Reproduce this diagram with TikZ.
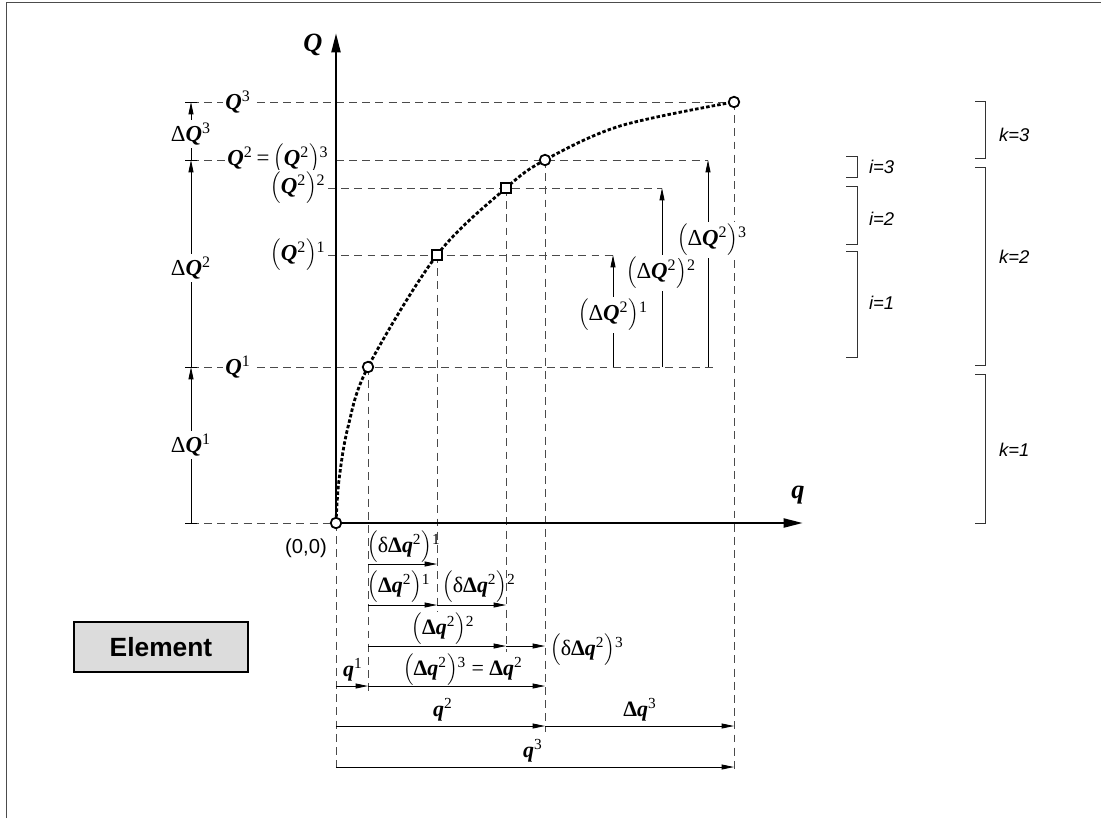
\documentclass[tikz,border=0pt]{standalone}
\usepackage{fontspec}
\setmainfont{Liberation Serif}
\setsansfont{Liberation Sans}
\usetikzlibrary{arrows.meta,positioning}
\definecolor{guidegray}{HTML}{4A4A4A}
\definecolor{elemgray}{HTML}{DCDCDC}
\newcommand{\Qb}{\textbf{\textit{Q}}}
\newcommand{\qb}{\textbf{\textit{q}}}
\newcommand{\bigp}[2]{$\Bigl($#1$\Bigr)$\textsuperscript{#2}}

\begin{document}
\begin{tikzpicture}[x=0.02cm, y=-0.02cm,
  every node/.style={font=\fontsize{13}{15}\selectfont, inner sep=1pt},
  guide/.style={guidegray, line width=0.5pt, dash pattern=on 4.5pt off 3pt},
  axis/.style={line width=1.5pt, -{Triangle[length=11pt,width=5pt]}},
  dim/.style={line width=0.5pt, -{Triangle[length=7pt,width=2.8pt]}},
  lab/.style={fill=white, inner sep=1.5pt},
  qlab/.style={inner sep=0pt, font=\fontsize{12.5}{14}\selectfont},
  curve/.style={line width=1.6pt, dash pattern=on 2pt off 1.2pt},
  ptc/.style={circle, draw, line width=1pt, fill=white, minimum size=6pt, inner sep=0pt},
  pts/.style={rectangle, draw, line width=1pt, fill=white, minimum size=6pt, inner sep=0pt},
  brk/.style={line width=0.5pt, black!80},
  idx/.style={font=\sffamily\itshape\fontsize{10.5}{12}\selectfont, anchor=west}]
  \useasboundingbox (0,0) rectangle (1101,818);
  \draw[line width=1pt, black!70] (6.5,818) -- (6.5,2.5) -- (1101,2.5);
  \coordinate (O) at (336,523);
  \coordinate (P1) at (368,367);
  \coordinate (S1) at (437,255);
  \coordinate (S2) at (506,188);
  \coordinate (P2) at (545,160);
  \coordinate (P3) at (734,102);
  \draw[guide] (191,102) -- (P3);
  \draw[guide] (191,160) -- (708,160);
  \draw[guide] (328,188) -- (662,188);
  \draw[guide] (328,255) -- (613,255);
  \draw[guide] (191,367) -- (713,367);
  \draw[guide] (191,523) -- (O);
  \draw[guide] (O) -- (336,772);
  \draw[guide] (P1) -- (368,692);
  \draw[guide] (S1) -- (437,612);
  \draw[guide] (S2) -- (506,652);
  \draw[guide] (P2) -- (545,732);
  \draw[guide] (P3) -- (734,772);
  \coordinate (Qtip) at (336,33);
  \coordinate (qtip) at (803,523);
  \draw[axis] (O) -- (Qtip);
  \draw[axis] (O) -- (qtip);
  \node (Qaxis) at (313,45) {\fontsize{15}{17}\selectfont\Qb};
  \node (qaxis) at (798,495) {\fontsize{15}{17}\selectfont\qb};
  \node[font=\sffamily\fontsize{11.5}{13}\selectfont] (zero) at (306,548) {(0,0)};
  \draw[curve] plot[smooth, tension=0.55] coordinates {(O) (339,480) (348,427) (P1) (S1) (S2) (P2) (620,126) (P3)};
  \node[ptc] (o) at (O) {};
  \node[ptc] (p1) at (P1) {};
  \node[pts] (s1) at (S1) {};
  \node[pts] (s2) at (S2) {};
  \node[ptc] (p2) at (P2) {};
  \node[ptc] (p3) at (P3) {};
  \foreach \y in {102,160,367,523} \draw[line width=0.5pt] (185,\y) -- (197,\y);
  \draw[dim] (191,523) -- (191,367);
  \draw[dim] (191,367) -- (191,160);
  \draw[dim] (191,160) -- (191,102);
  \node[lab] (dQ1) at (191,445) {Δ\Qb\textsuperscript{1}};
  \node[lab] (dQ2) at (191,268) {Δ\Qb\textsuperscript{2}};
  \node[lab] (dQ3) at (191,134) {Δ\Qb\textsuperscript{3}};
  \node[lab] (Q3) at (238,102) {\Qb\textsuperscript{3}};
  \node[lab] (Q2) at (278,160) {\Qb\textsuperscript{2}\,=\,\bigp{\Qb\textsuperscript{2}}{3}};
  \node[lab] (Q22) at (298,188) {\bigp{\Qb\textsuperscript{2}}{2}};
  \node[lab] (Q21) at (298,255) {\bigp{\Qb\textsuperscript{2}}{1}};
  \node[lab] (Q1) at (238,367) {\Qb\textsuperscript{1}};
  \draw[dim] (613,367) -- (613,255);
  \draw[dim] (662,367) -- (662,188);
  \draw[dim] (708,367) -- (708,160);
  \node[lab] (dQ21) at (613,315) {\bigp{Δ\Qb\textsuperscript{2}}{1}};
  \node[lab] (dQ22) at (661,273) {\bigp{Δ\Qb\textsuperscript{2}}{2}};
  \node[lab] (dQ23) at (712,240) {\bigp{Δ\Qb\textsuperscript{2}}{3}};
  \draw[dim] (368,564) -- (437,564);
  \node[qlab] (ddq1) at (404,547) {\bigp{δ\textbf{Δ}\qb\textsuperscript{2}}{1}};
  \draw[dim] (368,605) -- (437,605);
  \draw[dim] (437,605) -- (506,605);
  \node[qlab] (dq1) at (399,587) {\bigp{\textbf{Δ}\qb\textsuperscript{2}}{1}};
  \node[qlab] (ddq2) at (479,587) {\bigp{δ\textbf{Δ}\qb\textsuperscript{2}}{2}};
  \draw[dim] (368,646) -- (506,646);
  \draw[dim] (506,646) -- (545,646);
  \node[qlab] (dq2) at (443,629) {\bigp{\textbf{Δ}\qb\textsuperscript{2}}{2}};
  \node[qlab, anchor=west] (ddq3) at (550,650) {\bigp{δ\textbf{Δ}\qb\textsuperscript{2}}{3}};
  \draw[dim] (336,686) -- (368,686);
  \draw[dim] (368,686) -- (545,686);
  \node[qlab] (q1) at (353,670) {\qb\textsuperscript{1}};
  \node[qlab] (dq3) at (463,670) {\bigp{\textbf{Δ}\qb\textsuperscript{2}}{3} = \textbf{Δ}\qb\textsuperscript{2}};
  \draw[dim] (336,726) -- (545,726);
  \draw[dim] (545,726) -- (734,726);
  \node[qlab] (q2) at (443,710) {\qb\textsuperscript{2}};
  \node[qlab] (dq3b) at (640,710) {\textbf{Δ}\qb\textsuperscript{3}};
  \draw[dim] (336,767) -- (734,767);
  \node[qlab] (q3) at (533,751) {\qb\textsuperscript{3}};
  \draw[brk] (975,101) -- (985,101) -- (985,158) -- (975,158);
  \draw[brk] (975,167) -- (985,167) -- (985,365) -- (975,365);
  \draw[brk] (975,374) -- (985,374) -- (985,523) -- (975,523);
  \draw[brk] (846,156) -- (857,156) -- (857,177) -- (846,177);
  \draw[brk] (846,186) -- (857,186) -- (857,244) -- (846,244);
  \draw[brk] (846,251) -- (857,251) -- (857,357) -- (846,357);
  \node[idx] (k3) at (997,135) {k=3};
  \node[idx] (k2) at (997,257) {k=2};
  \node[idx] (k1) at (997,450) {k=1};
  \node[idx] (i3) at (867,167) {i=3};
  \node[idx] (i2) at (867,219) {i=2};
  \node[idx] (i1) at (867,303) {i=1};
  \node[draw, line width=1.2pt, fill=elemgray, minimum width=99pt, minimum height=28.5pt,
    font=\sffamily\bfseries\fontsize{15}{18}\selectfont] (element) at (161,647) {Element};
\end{tikzpicture}
\end{document}
